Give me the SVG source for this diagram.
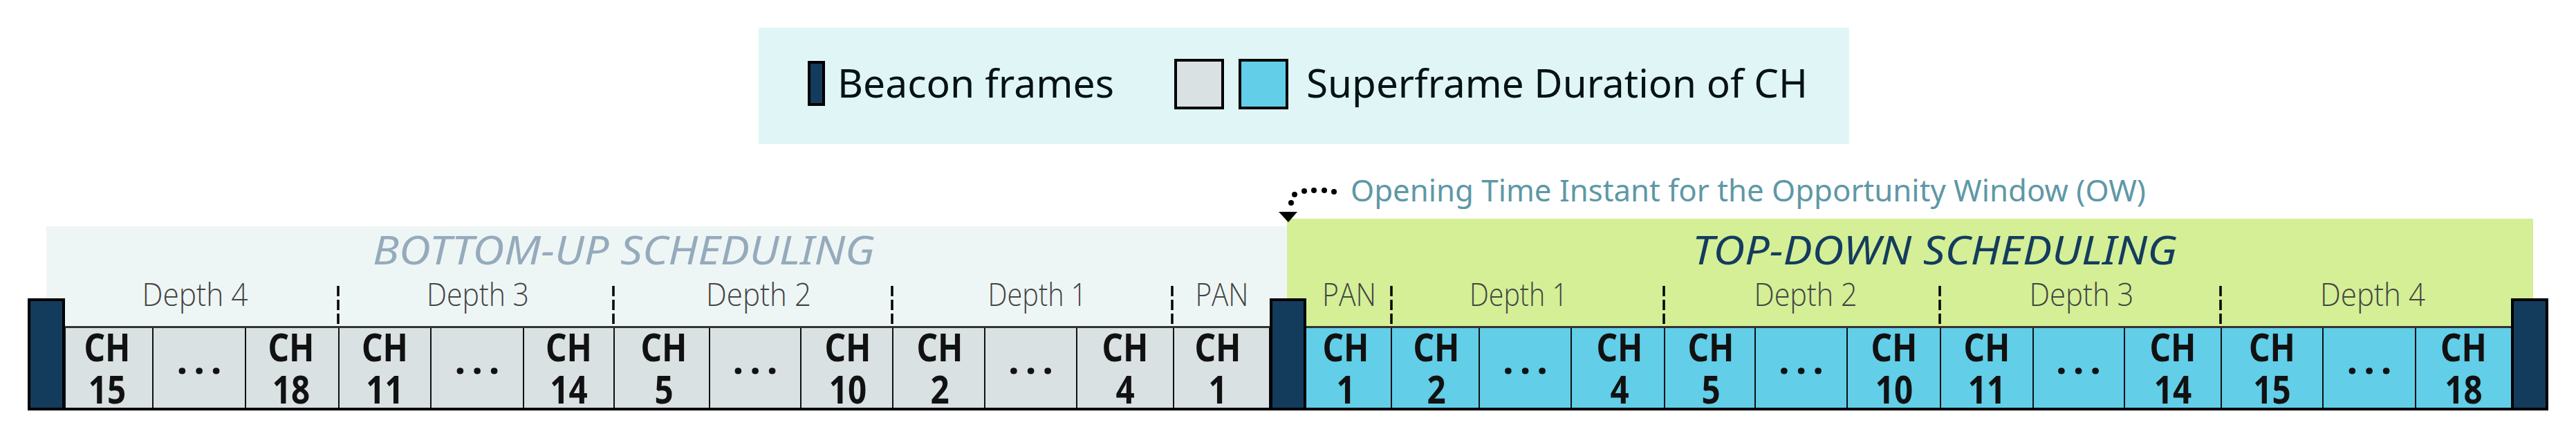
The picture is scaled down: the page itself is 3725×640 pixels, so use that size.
<svg xmlns="http://www.w3.org/2000/svg" width="3725" height="640" viewBox="0 0 3725 640">
<style>
.bu{fill:#D9E1E2;stroke:#111;stroke-width:2}
.td{fill:#62CEE8;stroke:#111;stroke-width:2}
.bcn{fill:#133B5C;stroke:#000;stroke-width:4}
.ch{font-family:"Noto Sans","Open Sans",sans-serif;font-weight:700;font-size:56px;fill:#111;text-anchor:middle}
.dots{font-family:"Noto Sans","Open Sans",sans-serif;font-weight:700;font-size:56px;fill:#111;text-anchor:middle;letter-spacing:9px}
.dep{font-family:"Open Sans","Noto Sans",sans-serif;font-weight:300;font-size:46px;fill:#444;text-anchor:middle}
.leg{font-family:"Noto Sans","Open Sans",sans-serif;font-size:57px;fill:#061214}
.sch{font-family:"Noto Sans","Open Sans",sans-serif;font-style:italic;font-size:57px}
.dash{stroke:#000;stroke-width:3.5;stroke-dasharray:15 5}
</style>

<!-- backgrounds -->
<rect x="1097" y="40" width="1577" height="168" fill="#E0F6F6"/>
<rect x="67" y="327" width="1794" height="146" fill="#EEF6F5"/>
<rect x="1861" y="316" width="1802" height="157" fill="#D4EF96"/>

<!-- legend -->
<g id="legend">
  <rect class="bcn" x="1170" y="90" width="21" height="61"/>
  <text class="leg" x="1211" y="141" textLength="400" lengthAdjust="spacingAndGlyphs">Beacon frames</text>
  <rect x="1700" y="87" width="68" height="69" fill="#D9E1E2" stroke="#000" stroke-width="4"/>
  <rect x="1793" y="87" width="68" height="69" fill="#62CEE8" stroke="#000" stroke-width="4"/>
  <text class="leg" x="1889" y="141" textLength="725" lengthAdjust="spacingAndGlyphs">Superframe Duration of CH</text>
</g>

<!-- titles -->
<g id="titles">
  <text class="sch" x="539" y="382" fill="#95ABBC" textLength="726" lengthAdjust="spacingAndGlyphs">BOTTOM-UP SCHEDULING</text>
  <text class="sch" x="2447" y="382" fill="#143C5F" textLength="701" lengthAdjust="spacingAndGlyphs">TOP-DOWN SCHEDULING</text>
  <text x="1953" y="291" font-family="Noto Sans, Open Sans, sans-serif" font-size="43" fill="#5E98A6" textLength="1150" lengthAdjust="spacingAndGlyphs">Opening Time Instant for the Opportunity Window (OW)</text>
</g>

<!-- depth labels -->
<g id="depth-labels">
  <text class="dep" x="282" y="442" textLength="153" lengthAdjust="spacingAndGlyphs">Depth 4</text>
  <text class="dep" x="691" y="442" textLength="148" lengthAdjust="spacingAndGlyphs">Depth 3</text>
  <text class="dep" x="1097" y="442" textLength="152" lengthAdjust="spacingAndGlyphs">Depth 2</text>
  <text class="dep" x="1500" y="442" textLength="143" lengthAdjust="spacingAndGlyphs">Depth 1</text>
  <text class="dep" x="1767" y="442" textLength="77" lengthAdjust="spacingAndGlyphs">PAN</text>
  <text class="dep" x="1951" y="442" textLength="78" lengthAdjust="spacingAndGlyphs">PAN</text>
  <text class="dep" x="2196" y="442" textLength="142" lengthAdjust="spacingAndGlyphs">Depth 1</text>
  <text class="dep" x="2611" y="442" textLength="149" lengthAdjust="spacingAndGlyphs">Depth 2</text>
  <text class="dep" x="3010" y="442" textLength="151" lengthAdjust="spacingAndGlyphs">Depth 3</text>
  <text class="dep" x="3431" y="442" textLength="152" lengthAdjust="spacingAndGlyphs">Depth 4</text>
  <line class="dash" x1="489" y1="413" x2="489" y2="472"/>
  <line class="dash" x1="887" y1="413" x2="887" y2="472"/>
  <line class="dash" x1="1290" y1="413" x2="1290" y2="472"/>
  <line class="dash" x1="1695" y1="413" x2="1695" y2="472"/>
  <line class="dash" x1="2012" y1="413" x2="2012" y2="472"/>
  <line class="dash" x1="2406" y1="413" x2="2406" y2="472"/>
  <line class="dash" x1="2805" y1="413" x2="2805" y2="472"/>
  <line class="dash" x1="3211" y1="413" x2="3211" y2="472"/>
</g>

<!-- bottom-up cells -->
<g id="bu-ch15"><rect class="bu" x="94" y="472" width="127" height="119"/><text class="ch" transform="translate(155,0) scale(0.85,1)"><tspan x="0" y="522">CH</tspan><tspan x="0" y="583">15</tspan></text></g>
<g id="bu-dots1"><rect class="bu" x="221" y="472" width="134" height="119"/><text class="dots" x="292.5" y="540">...</text></g>
<g id="bu-ch18"><rect class="bu" x="355" y="472" width="135" height="119"/><text class="ch" transform="translate(421,0) scale(0.85,1)"><tspan x="0" y="522">CH</tspan><tspan x="0" y="583">18</tspan></text></g>
<g id="bu-ch11"><rect class="bu" x="490" y="472" width="133" height="119"/><text class="ch" transform="translate(556.5,0) scale(0.85,1)"><tspan x="0" y="522">CH</tspan><tspan x="0" y="583">11</tspan></text></g>
<g id="bu-dots2"><rect class="bu" x="623" y="472" width="134" height="119"/><text class="dots" x="694.5" y="540">...</text></g>
<g id="bu-ch14"><rect class="bu" x="757" y="472" width="131" height="119"/><text class="ch" transform="translate(822.5,0) scale(0.85,1)"><tspan x="0" y="522">CH</tspan><tspan x="0" y="583">14</tspan></text></g>
<g id="bu-ch5"><rect class="bu" x="888" y="472" width="138" height="119"/><text class="ch" transform="translate(960,0) scale(0.85,1)"><tspan x="0" y="522">CH</tspan><tspan x="0" y="583">5</tspan></text></g>
<g id="bu-dots3"><rect class="bu" x="1026" y="472" width="132" height="119"/><text class="dots" x="1096.5" y="540">...</text></g>
<g id="bu-ch10"><rect class="bu" x="1158" y="472" width="133" height="119"/><text class="ch" transform="translate(1226,0) scale(0.85,1)"><tspan x="0" y="522">CH</tspan><tspan x="0" y="583">10</tspan></text></g>
<g id="bu-ch2"><rect class="bu" x="1291" y="472" width="133" height="119"/><text class="ch" transform="translate(1359,0) scale(0.85,1)"><tspan x="0" y="522">CH</tspan><tspan x="0" y="583">2</tspan></text></g>
<g id="bu-dots4"><rect class="bu" x="1424" y="472" width="133" height="119"/><text class="dots" x="1495" y="540">...</text></g>
<g id="bu-ch4"><rect class="bu" x="1557" y="472" width="140" height="119"/><text class="ch" transform="translate(1627,0) scale(0.85,1)"><tspan x="0" y="522">CH</tspan><tspan x="0" y="583">4</tspan></text></g>
<g id="bu-ch1"><rect class="bu" x="1697" y="472" width="139" height="119"/><text class="ch" transform="translate(1761,0) scale(0.85,1)"><tspan x="0" y="522">CH</tspan><tspan x="0" y="583">1</tspan></text></g>

<!-- top-down cells -->
<g id="td-ch1"><rect class="td" x="1887" y="472" width="125" height="119"/><text class="ch" transform="translate(1946,0) scale(0.85,1)"><tspan x="0" y="522">CH</tspan><tspan x="0" y="583">1</tspan></text></g>
<g id="td-ch2"><rect class="td" x="2012" y="472" width="127" height="119"/><text class="ch" transform="translate(2077,0) scale(0.85,1)"><tspan x="0" y="522">CH</tspan><tspan x="0" y="583">2</tspan></text></g>
<g id="td-dots1"><rect class="td" x="2139" y="472" width="133" height="119"/><text class="dots" x="2210" y="540">...</text></g>
<g id="td-ch4"><rect class="td" x="2272" y="472" width="135" height="119"/><text class="ch" transform="translate(2342,0) scale(0.85,1)"><tspan x="0" y="522">CH</tspan><tspan x="0" y="583">4</tspan></text></g>
<g id="td-ch5"><rect class="td" x="2407" y="472" width="131" height="119"/><text class="ch" transform="translate(2474,0) scale(0.85,1)"><tspan x="0" y="522">CH</tspan><tspan x="0" y="583">5</tspan></text></g>
<g id="td-dots2"><rect class="td" x="2538" y="472" width="133" height="119"/><text class="dots" x="2609" y="540">...</text></g>
<g id="td-ch10"><rect class="td" x="2671" y="472" width="135" height="119"/><text class="ch" transform="translate(2739,0) scale(0.85,1)"><tspan x="0" y="522">CH</tspan><tspan x="0" y="583">10</tspan></text></g>
<g id="td-ch11"><rect class="td" x="2806" y="472" width="134" height="119"/><text class="ch" transform="translate(2873,0) scale(0.85,1)"><tspan x="0" y="522">CH</tspan><tspan x="0" y="583">11</tspan></text></g>
<g id="td-dots3"><rect class="td" x="2940" y="472" width="132" height="119"/><text class="dots" x="3010" y="540">...</text></g>
<g id="td-ch14"><rect class="td" x="3072" y="472" width="140" height="119"/><text class="ch" transform="translate(3142,0) scale(0.85,1)"><tspan x="0" y="522">CH</tspan><tspan x="0" y="583">14</tspan></text></g>
<g id="td-ch15"><rect class="td" x="3212" y="472" width="147" height="119"/><text class="ch" transform="translate(3285.5,0) scale(0.85,1)"><tspan x="0" y="522">CH</tspan><tspan x="0" y="583">15</tspan></text></g>
<g id="td-dots4"><rect class="td" x="3359" y="472" width="134" height="119"/><text class="dots" x="3430.5" y="540">...</text></g>
<g id="td-ch18"><rect class="td" x="3493" y="472" width="139" height="119"/><text class="ch" transform="translate(3562.5,0) scale(0.85,1)"><tspan x="0" y="522">CH</tspan><tspan x="0" y="583">18</tspan></text></g>

<!-- row edges -->
<line x1="94" y1="472.5" x2="3632" y2="472.5" stroke="#333" stroke-width="3"/>
<line x1="40" y1="591" x2="3685" y2="591" stroke="#000" stroke-width="4"/>

<!-- beacons -->
<g id="beacon-left"><rect class="bcn" x="42" y="433" width="50" height="158"/></g>
<g id="beacon-mid"><rect class="bcn" x="1838" y="433" width="49" height="158"/></g>
<g id="beacon-right"><rect class="bcn" x="3633" y="433" width="50" height="158"/></g>

<!-- connectors -->
<g id="connectors" fill="#000">
  <circle cx="1867" cy="293" r="4"/>
  <circle cx="1872" cy="281" r="4"/>
  <circle cx="1886" cy="276" r="4"/>
  <circle cx="1900" cy="275" r="4"/>
  <circle cx="1915" cy="275" r="4"/>
  <circle cx="1929" cy="277" r="4"/>
  <polygon points="1849,306 1876,306 1863,321"/>
</g>
</svg>
